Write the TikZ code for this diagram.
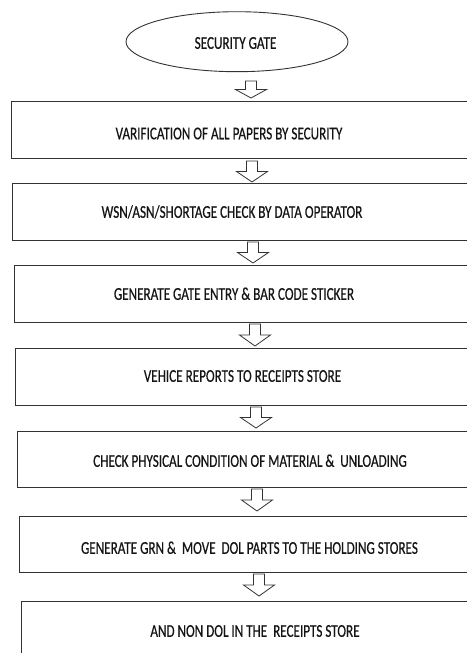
\documentclass[tikz,border=0pt]{standalone}
\usepackage{fontspec}
\setmainfont{Carlito}
\newfontfamily\lblfont{Carlito}[FakeBold=0.6]
\usetikzlibrary{shapes.geometric}
\tikzset{
  boxshape/.style={draw=black!80, line width=0.9pt, rectangle, anchor=north west, inner sep=0pt, minimum width=470pt},
  gateshape/.style={draw=black!80, line width=0.9pt, ellipse, inner sep=0pt, minimum width=222pt, minimum height=60pt},
  lbl/.style={font=\lblfont\fontsize{18}{21}\selectfont, text=black!92, inner sep=0pt, anchor=base},
  barr/.style={draw=black!80, line width=0.8pt, fill=white, line join=miter},
}
\newcommand\cond[1]{\scalebox{0.73}[1]{#1}}
% block arrow: name, centre x, top y, tip y
\newcommand\barrow[4]{%
  \coordinate (#1) at (#2,#3);
  \draw[barr] (#2-5.5,#3) -- (#2+5.5,#3) -- ({#2+5.5},{(#3+#4)/2}) -- ({#2+15.5},{(#3+#4)/2})
    -- (#2,#4) -- ({#2-15.5},{(#3+#4)/2}) -- ({#2-5.5},{(#3+#4)/2}) -- cycle;}
\begin{document}
\begin{tikzpicture}[x=1pt,y=-1pt]
\useasboundingbox (0,0) rectangle (466,653);
\fill[white] (0,0) rectangle (466,653);

\node[gateshape] (gate) at (237,41.7) {};
\node[lbl] (tg) at (235.5,48.8) {\cond{SECURITY GATE}};

\node[boxshape, minimum height=57pt] (b1) at (11,101) {};
\node[boxshape, minimum height=57pt] (b2) at (12,183) {};
\node[boxshape, minimum height=57pt] (b3) at (14,265) {};
\node[boxshape, minimum height=57pt] (b4) at (15,348) {};
\node[boxshape, minimum height=56pt] (b5) at (17,431) {};
\node[boxshape, minimum height=56pt] (b6) at (19,516) {};
\node[boxshape, minimum height=70pt] (b7) at (21,601) {};

\node[lbl] (t1) at (229,139.3) {\cond{VARIFICATION OF ALL PAPERS BY SECURITY}};
\node[lbl] (t2) at (232,217.8) {\cond{WSN/ASN/SHORTAGE CHECK BY DATA OPERATOR}};
\node[lbl] (t3) at (234,299.8) {\cond{GENERATE GATE ENTRY \& BAR CODE STICKER}};
\node[lbl] (t4) at (242.5,381.8) {\cond{VEHICE REPORTS TO RECEIPTS STORE}};
\node[lbl] (t5) at (250,466.8) {\cond{CHECK PHYSICAL CONDITION OF MATERIAL \&\ \ UNLOADING}};
\node[lbl] (t6) at (249.5,553.8) {\cond{GENERATE GRN \&\ \ MOVE\ \ DOL PARTS TO THE HOLDING STORES}};
\node[lbl] (t7) at (255,636.8) {\cond{AND NON DOL IN THE\ \ RECEIPTS STORE}};

\barrow{a1}{251}{81}{98}
\barrow{a2}{252}{161}{182}
\barrow{a3}{253}{242}{263}
\barrow{a4}{255}{324}{346}
\barrow{a5}{256}{407}{428}
\barrow{a6}{257}{489}{511}
\barrow{a7}{259}{574}{596}
\end{tikzpicture}
\end{document}
